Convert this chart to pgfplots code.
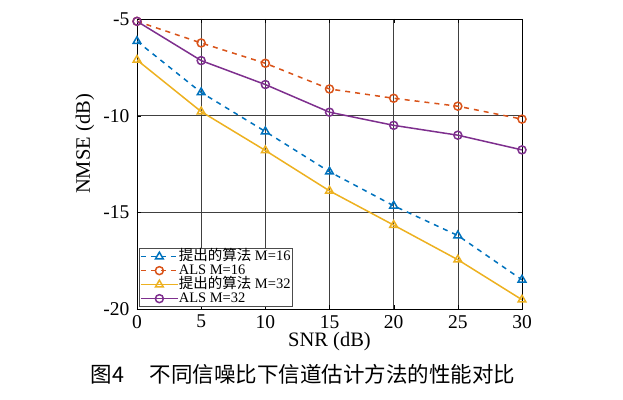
\documentclass[border=0pt]{standalone}
\usepackage{fontspec}
\setmainfont{Liberation Serif}
\newfontfamily\cjk{Noto Sans CJK SC}
\usepackage{pgfplots}
\pgfplotsset{compat=1.18}
\definecolor{mblue}{rgb}{0,0.447,0.741}
\definecolor{mred}{rgb}{0.85,0.325,0.098}
\definecolor{myellow}{rgb}{0.929,0.694,0.125}
\definecolor{mpurple}{rgb}{0.494,0.184,0.556}
\begin{document}
\begin{tikzpicture}
\useasboundingbox (-137pt,-90pt) rectangle (486pt,309pt);
\begin{axis}[
  at={(0,0)}, anchor=south west,
  scale only axis, width=385pt, height=290pt,
  xmin=0, xmax=30, ymin=-20, ymax=-5,
  xtick={0,5,...,30}, ytick={-20,-15,-10,-5},
  grid=major, major grid style={draw=black!75, line width=0.5pt},
  axis line style={black, line width=0.6pt},
  tick align=inside, major tick length=4pt,
  tick style={black},
  /pgf/number format/assume math mode=true,
  tick label style={font=\fontsize{19.5}{21}\selectfont},
  xticklabel style={yshift=-5pt, inner sep=1pt},
  yticklabel style={xshift=-4pt},
  xlabel={SNR (dB)}, ylabel={NMSE (dB)},
  label style={font=\fontsize{20.5}{22}\selectfont},
  xlabel style={at={(axis description cs:0.5,0)}, anchor=center, yshift=-33pt},
  ylabel style={at={(axis description cs:-0.135,0.569)}, anchor=center},
  legend style={at={(0.004,0.006)}, anchor=south west, font=\fontsize{14.5}{15}\selectfont,
    draw=black!70, line width=0.8pt, inner sep=1.2pt, row sep=0pt,
    nodes={inner sep=0.2pt, text height=10.8pt, text depth=2.8pt}, cells={anchor=west}},
  legend cell align=left,
  legend image code/.code={\draw[mark repeat=2,mark phase=2] plot coordinates {(0cm,0cm) (0.65cm,0cm) (1.3cm,0cm)};},
  every axis plot/.append style={line width=1.5pt},
]
\addplot[mblue, dashed, dash pattern=on 5pt off 5pt, mark=triangle, mark size=4.5pt, mark options={solid}]
 coordinates {(0,-6.15) (5,-8.8) (10,-10.82) (15,-12.9) (20,-14.66) (25,-16.2) (30,-18.49)};
\addlegendentry{{\cjk 提出的算法} M=16}
\addplot[mred, dashed, dash pattern=on 5pt off 5pt, mark=o, mark size=4pt, mark options={solid}]
 coordinates {(0,-5.12) (5,-6.24) (10,-7.29) (15,-8.62) (20,-9.1) (25,-9.51) (30,-10.18)};
\addlegendentry{ALS M=16}
\addplot[myellow, mark=triangle, mark size=4.5pt]
 coordinates {(0,-7.12) (5,-9.79) (10,-11.8) (15,-13.89) (20,-15.66) (25,-17.45) (30,-19.52)};
\addlegendentry{{\cjk 提出的算法} M=32}
\addplot[mpurple, mark=o, mark size=4pt]
 coordinates {(0,-5.12) (5,-7.15) (10,-8.39) (15,-9.82) (20,-10.5) (25,-11.01) (30,-11.77)};
\addlegendentry{ALS M=32}
\end{axis}
\node[font=\fontsize{21.5}{23}\selectfont\cjk, inner sep=0pt] at (166pt,-65pt) {图4\hspace{26pt}不同信噪比下信道估计方法的性能对比};
\end{tikzpicture}
\end{document}
